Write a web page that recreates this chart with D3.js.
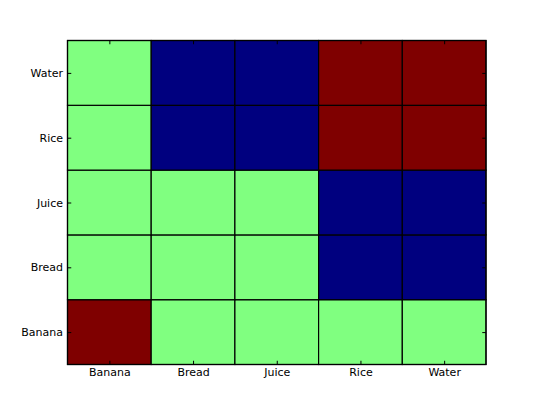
<!DOCTYPE html>
<html>
<head>
<script src="https://cdnjs.cloudflare.com/ajax/libs/d3/7.8.5/d3.min.js"></script>
<style>
  html, body { margin: 0; padding: 0; background: #fff; }
  svg text { font-family: 'DejaVu Sans', sans-serif; font-size: 11px; fill: #000; }
</style>
</head>
<body>
<div id="chart"></div>
<script>
const categories = ["Banana", "Bread", "Juice", "Rice", "Water"];
// rows in order of categories (bottom to top), columns in order of categories
const bananaRow = [1, 0.5, 0.5, 0.5, 0.5];
const breadRow  = [0.5, 0.5, 0.5, 0, 0];
const juiceRow  = [0.5, 0.5, 0.5, 0, 0];
const riceRow   = [0.5, 0, 0, 1, 1];
const waterRow  = [0.5, 0, 0, 1, 1];
const rows = [bananaRow, breadRow, juiceRow, riceRow, waterRow];

const width = 540, height = 405;
const margin = { left: 67.5, right: 54, top: 40.5, bottom: 40.5 };

const svg = d3.select("#chart").append("svg")
  .attr("width", width).attr("height", height);

const x = d3.scaleLinear().domain([0, categories.length]).range([margin.left, width - margin.right]);
const y = d3.scaleLinear().domain([0, categories.length]).range([height - margin.bottom, margin.top]);

// jet colormap
const jet = d3.scaleLinear()
  .domain([0, 0.125, 0.375, 0.625, 0.875, 1])
  .range(["#00007f", "#0000ff", "#00ffff", "#ffff00", "#ff0000", "#7f0000"]);

const cells = [];
rows.forEach((r, i) => r.forEach((v, j) => cells.push({ i, j, v })));

svg.selectAll("rect.cell")
  .data(cells)
  .enter().append("rect")
  .attr("class", "cell")
  .attr("x", d => x(d.j))
  .attr("y", d => y(d.i + 1))
  .attr("width", d => x(d.j + 1) - x(d.j))
  .attr("height", d => y(d.i) - y(d.i + 1))
  .attr("fill", d => jet(d.v))
  .attr("stroke", "#000")
  .attr("stroke-width", 1.2);

const tickVals = d3.range(categories.length).map(d => d + 0.5);
const fmt = d => categories[Math.floor(d)];

svg.append("g")
  .attr("transform", `translate(0,${y(0)})`)
  .call(d3.axisBottom(x).tickValues(tickVals).tickFormat(fmt).tickSizeInner(-3.75).tickSizeOuter(0).tickPadding(4))
  .call(g => g.select(".domain").remove());

svg.append("g")
  .attr("transform", `translate(${x(0)},0)`)
  .call(d3.axisLeft(y).tickValues(tickVals).tickFormat(fmt).tickSizeInner(-3.75).tickSizeOuter(0).tickPadding(4.5))
  .call(g => g.select(".domain").remove());

svg.append("g")
  .attr("transform", `translate(0,${y(categories.length)})`)
  .call(d3.axisTop(x).tickValues(tickVals).tickFormat("").tickSizeInner(-3.75).tickSizeOuter(0))
  .call(g => g.select(".domain").remove());

svg.append("g")
  .attr("transform", `translate(${x(categories.length)},0)`)
  .call(d3.axisRight(y).tickValues(tickVals).tickFormat("").tickSizeInner(-3.75).tickSizeOuter(0))
  .call(g => g.select(".domain").remove());

svg.selectAll(".tick line").attr("stroke", "#000");
svg.selectAll(".tick text").attr("font-size", null).attr("font-family", null);

svg.append("rect")
  .attr("x", x(0)).attr("y", y(categories.length))
  .attr("width", x(categories.length) - x(0))
  .attr("height", y(0) - y(categories.length))
  .attr("fill", "none").attr("stroke", "#000").attr("stroke-width", 1.2);
</script>
</body>
</html>
